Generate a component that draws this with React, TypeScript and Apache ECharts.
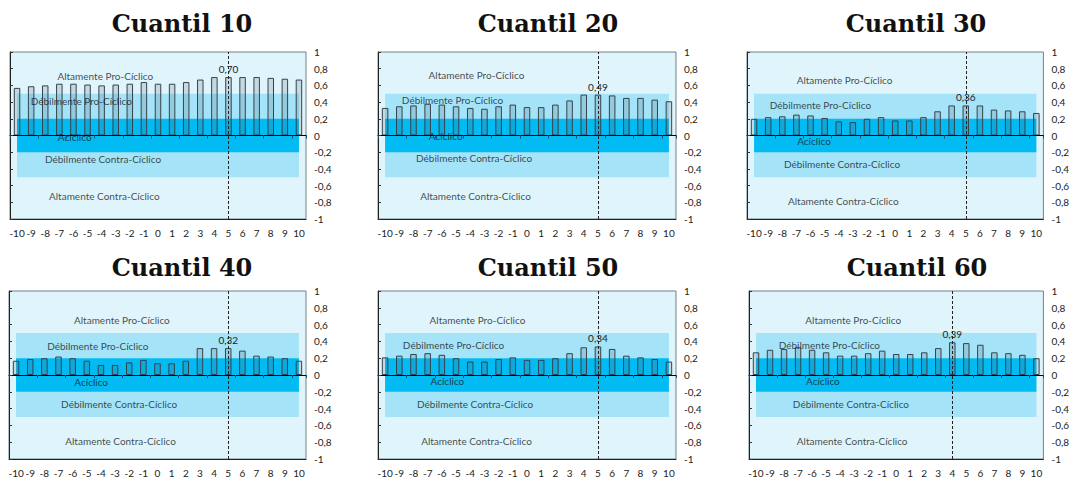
import React, { useEffect, useRef } from 'react';
import * as echarts from 'echarts';

const categories = ['-10', '-9', '-8', '-7', '-6', '-5', '-4', '-3', '-2', '-1', '0', '1', '2', '3', '4', '5', '6', '7', '8', '9', '10'];

const titles = ['Cuantil 10', 'Cuantil 20', 'Cuantil 30', 'Cuantil 40', 'Cuantil 50', 'Cuantil 60'];

const q10 = [0.57, 0.59, 0.60, 0.62, 0.62, 0.61, 0.60, 0.61, 0.62, 0.64, 0.62, 0.62, 0.64, 0.67, 0.70, 0.70, 0.70, 0.70, 0.69, 0.68, 0.67];
const q20 = [0.33, 0.35, 0.36, 0.38, 0.37, 0.35, 0.33, 0.32, 0.35, 0.37, 0.34, 0.34, 0.37, 0.42, 0.49, 0.49, 0.48, 0.45, 0.45, 0.43, 0.41];
const q30 = [0.20, 0.22, 0.23, 0.25, 0.24, 0.21, 0.17, 0.16, 0.20, 0.22, 0.18, 0.18, 0.22, 0.29, 0.36, 0.36, 0.36, 0.31, 0.30, 0.29, 0.27];
const q40 = [0.17, 0.19, 0.20, 0.22, 0.20, 0.17, 0.12, 0.12, 0.15, 0.18, 0.14, 0.14, 0.17, 0.32, 0.32, 0.32, 0.29, 0.23, 0.22, 0.20, 0.17];
const q50 = [0.21, 0.23, 0.25, 0.26, 0.24, 0.20, 0.16, 0.16, 0.19, 0.21, 0.18, 0.18, 0.20, 0.26, 0.33, 0.34, 0.31, 0.23, 0.21, 0.19, 0.16];
const q60 = [0.27, 0.30, 0.31, 0.33, 0.30, 0.27, 0.23, 0.23, 0.26, 0.29, 0.25, 0.25, 0.27, 0.32, 0.39, 0.38, 0.36, 0.27, 0.26, 0.24, 0.20];
const seriesValues = [q10, q20, q30, q40, q50, q60];

// category marked with the dashed line and value label
const markedCategory = ['5', '5', '5', '5', '5', '4'];

const bandNames = ['Altamente Pro-Cíclico', 'Débilmente Pro-Cíclico', 'Acíclico', 'Débilmente Contra-Cíclico', 'Altamente Contra-Cíclico'];
const weakBand = [-0.5, 0.5];
const acyclicBand = [-0.2, 0.2];

// positions of the band names, in (category index, value) coordinates
const bandLabelPos = [
  [[6.26, 0.71], [4.56, 0.41], [4.09, -0.02], [6.1, -0.28], [6.19, -0.73]],
  [[6.44, 0.72], [4.75, 0.42], [4.27, -0.01], [6.27, -0.27], [6.37, -0.72]],
  [[6.41, 0.67], [4.7, 0.37], [4.25, -0.06], [6.23, -0.34], [6.32, -0.78]],
  [[7.48, 0.65], [5.78, 0.35], [5.31, -0.08], [7.29, -0.34], [7.39, -0.79]],
  [[6.51, 0.66], [4.82, 0.36], [4.39, -0.07], [6.34, -0.34], [6.44, -0.78]],
  [[6.93, 0.66], [5.23, 0.36], [4.77, -0.07], [6.77, -0.34], [6.86, -0.78]],
];

const grids = [
  { left: 10, top: 52, width: 296, height: 167 },
  { left: 378, top: 52, width: 298, height: 167 },
  { left: 747, top: 52, width: 298, height: 167 },
  { left: 9, top: 291, width: 297, height: 168 },
  { left: 378, top: 291, width: 298, height: 168 },
  { left: 749, top: 291, width: 297, height: 168 },
];
const titlePos = [
  { x: 177, y: 6 }, { x: 543, y: 6 }, { x: 911, y: 6 },
  { x: 177, y: 250 }, { x: 543, y: 250 }, { x: 912, y: 250 },
];

const LABEL_FONT = 'Lato, "Open Sans", sans-serif';
const fmtComma = (v: number, d: number) => {
  const r = Math.round(v * 10 ** d) / 10 ** d;
  if (r === 0) return '0';
  return String(r.toFixed(d)).replace('.', ',');
};
const fmtY = (v: number) => {
  const r = Math.round(v * 10) / 10;
  if (r === 0) return '0';
  if (Math.abs(r) === 1) return String(r);
  return r.toFixed(1).replace('.', ',');
};

function buildOption() {
  const xAxis: any[] = [];
  const yAxis: any[] = [];
  const series: any[] = [];
  const title: any[] = [];

  grids.forEach((g, p) => {
    title.push({
      text: titles[p],
      left: titlePos[p].x,
      top: titlePos[p].y,
      textAlign: 'center',
      textStyle: { fontFamily: '"DejaVu Serif", serif', fontWeight: 'bold', fontSize: 24, color: '#111' },
    });
    const xBase = xAxis.length;
    const yBase = yAxis.length;
    // bottom axis with labels
    xAxis.push({
      type: 'category', gridIndex: p, data: categories, position: 'bottom',
      axisLine: { onZero: false, show: true, lineStyle: { color: '#222', width: 1 } },
      axisTick: { show: false },
      axisLabel: { fontFamily: LABEL_FONT, fontSize: 10, color: '#222', margin: 9, interval: 0 },
      z: 10,
    });
    // zero line axis with small ticks
    xAxis.push({
      type: 'category', gridIndex: p, data: categories,
      axisLine: { onZero: true, onZeroAxisIndex: yBase, show: true, lineStyle: { color: '#000', width: 1.2 } },
      axisTick: { show: true, inside: true, length: 3, lineStyle: { color: '#1d4f6b' } },
      axisLabel: { show: false },
      z: 10,
    });
    // hidden value axis (category index units) for bands and band names
    xAxis.push({ type: 'value', gridIndex: p, min: -0.5, max: 20.5, show: false });

    yAxis.push({
      type: 'value', gridIndex: p, position: 'right', min: -1, max: 1, interval: 0.2,
      axisLine: { show: false }, axisTick: { show: false }, splitLine: { show: false },
      axisLabel: { fontFamily: LABEL_FONT, fontSize: 10, color: '#222', margin: 8, formatter: fmtY },
    });
    yAxis.push({
      type: 'value', gridIndex: p, position: 'left', min: -1, max: 1, interval: 0.2,
      axisLine: { show: true, lineStyle: { color: '#222', width: 1 } },
      axisTick: { show: true, inside: true, length: 3, lineStyle: { color: '#333' } },
      axisLabel: { show: false }, splitLine: { show: false },
      z: 10,
    });

    const firstIdx = 0;
    const lastIdx = categories.length - 1;
    // bands, from first to last category centre
    series.push({
      type: 'scatter', xAxisIndex: xBase + 2, yAxisIndex: yBase, data: [], z: 1, silent: true,
      markArea: {
        silent: true,
        data: [
          [{ xAxis: firstIdx, yAxis: weakBand[0], itemStyle: { color: '#a4e3f8' } }, { xAxis: lastIdx, yAxis: weakBand[1] }],
          [{ xAxis: firstIdx, yAxis: acyclicBand[0], itemStyle: { color: '#03bbf3' } }, { xAxis: lastIdx, yAxis: acyclicBand[1] }],
        ],
      },
    });

    const vals = seriesValues[p];
    const mk = markedCategory[p];
    series.push({
      type: 'bar', xAxisIndex: xBase, yAxisIndex: yBase, z: 3, barWidth: '46%',
      itemStyle: { color: 'rgba(70,85,95,0.17)', borderColor: '#34434d', borderWidth: 1 },
      data: vals.map((v, i) => categories[i] === mk
        ? { value: v, label: { show: true, position: 'top', distance: 3, fontFamily: LABEL_FONT, fontSize: 10, color: '#222', formatter: () => fmtComma(v, 2) } }
        : v),
      markLine: {
        silent: true, symbol: 'none', label: { show: false },
        lineStyle: { color: '#222', type: [3, 2], width: 1 },
        data: [{ xAxis: mk }],
      },
    });

    series.push({
      type: 'scatter', xAxisIndex: xBase + 2, yAxisIndex: yBase, z: 5, silent: true,
      symbolSize: 0,
      label: { show: true, position: 'inside', formatter: '{b}', fontFamily: LABEL_FONT, fontSize: 10, color: '#1a1a1a' },
      data: bandNames.map((n, k) => ({ name: n, value: bandLabelPos[p][k] })),
    });
  });

  return {
    animation: false,
    backgroundColor: '#ffffff',
    title,
    grid: grids.map(g => ({ ...g, show: true, backgroundColor: '#dff4fb', borderColor: '#6f818c', borderWidth: 1 })),
    xAxis,
    yAxis,
    series,
  };
}

export default function App() {
  const ref = useRef<HTMLDivElement>(null);
  useEffect(() => {
    document.body.style.margin = '0';
    if (!ref.current) return;
    const chart = echarts.init(ref.current, undefined, { renderer: 'svg' });
    chart.setOption(buildOption() as any);
    return () => chart.dispose();
  }, []);
  return <div ref={ref} style={{ width: 1072, height: 479 }} />;
}
